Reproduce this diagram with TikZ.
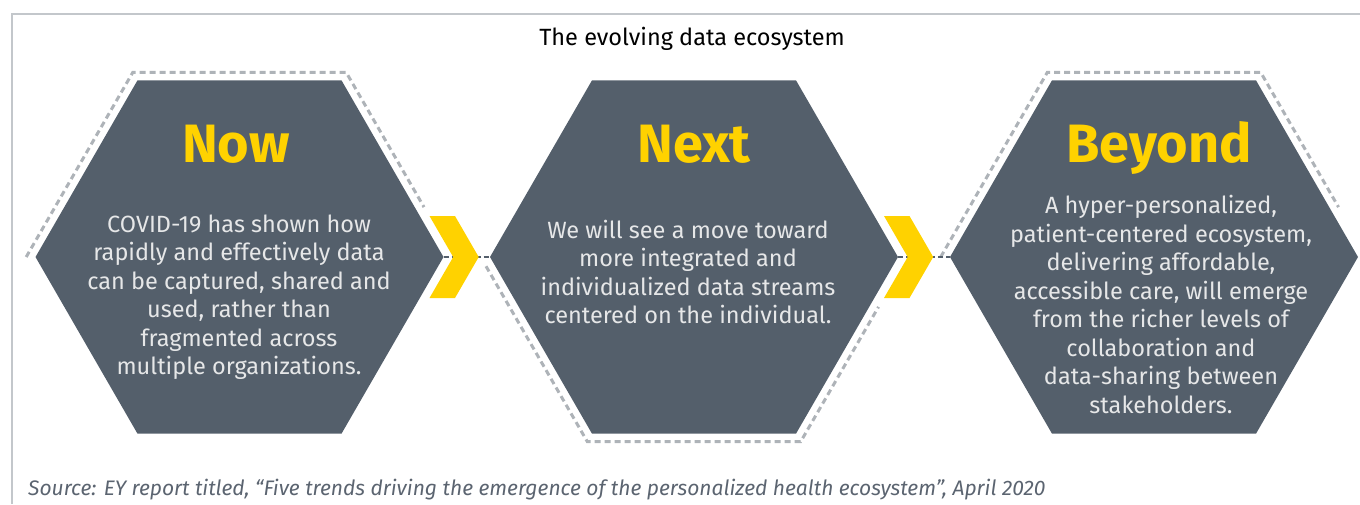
\documentclass[tikz,border=0pt]{standalone}
\usepackage{fontspec}
\setmainfont{Fira Sans}
\usepackage{xcolor}
\usepackage{tikz}
\usetikzlibrary{shapes.geometric,calc}

\definecolor{hexgrey}{HTML}{545F6B}
\definecolor{eyyellow}{HTML}{FFD200}
\definecolor{rimgrey}{HTML}{AEB3B8}
\definecolor{framegrey}{HTML}{C3C7CB}
\definecolor{bodywhite}{HTML}{E6E7E8}
\definecolor{sourcegrey}{HTML}{5B6470}

\tikzset{
  hex/.style={regular polygon,regular polygon sides=6,minimum size=408pt,inner sep=0pt,outer sep=0pt,fill=hexgrey},
  rim/.style={regular polygon,regular polygon sides=6,minimum size=426.6pt,inner sep=0pt,outer sep=0pt},
  rimline/.style={rimgrey,line width=3pt,dash pattern=on 6pt off 4pt},
  link/.style={hexgrey,line width=2pt,dash pattern=on 5pt off 3pt},
  chevron/.style={fill=eyyellow},
  hextitle/.style={anchor=base,inner sep=0pt,text=eyyellow,font=\fontsize{54}{54}\selectfont\bfseries},
  hexbody/.style={anchor=base,inner sep=0pt,align=center,text=bodywhite,font=\fontsize{23.5}{28.5}\selectfont}
}

\begin{document}
\begin{tikzpicture}[x=1pt,y=-1pt]
\useasboundingbox (0,0) rectangle (1360,504);
% frame
\draw[framegrey,line width=1.5pt](12,504)--(12,14)--(1360,14);
\node[anchor=base,inner sep=0pt,font=\fontsize{23.5}{23.5}\selectfont] (title) at (692,45) {The evolving data ecosystem};

% hexagons and their dotted rims
\foreach \h/\x in {now/239.5,next/694,beyond/1154}{
  \node[rim] (\h rim) at (\x,257) {};
}
\draw[rimline](nowrim.180)--(nowrim.120)--(nowrim.60)--($(nowrim.60)!0.73!(nowrim.0)$);
\draw[rimline]($(nextrim.180)!0.05!(nextrim.240)$)--(nextrim.240)--(nextrim.300)--($(nextrim.300)!0.73!(nextrim.0)$);
\draw[rimline](beyondrim.180)--(beyondrim.120)--(beyondrim.60)--($(beyondrim.60)!0.73!(beyondrim.0)$);

\foreach \h/\x in {now/239.5,next/694,beyond/1154}{
  \node[hex] (\h) at (\x,257) {};
}
\draw[link](now.0)--(next.180);
\draw[link](next.0)--(beyond.180);

% chevrons
\foreach \h in {now,next}{
  \fill[chevron,shift={(\h.center)}](190,-41)--(215.5,-41)--(239.2,0)--(215.5,41)--(190,41)--(213.7,0)--cycle;
}

% texts (base = last line)
\node[hextitle] (nowtitle) at (236,162) {Now};
\node[hextitle] (nexttitle) at (694,162) {Next};
\node[hextitle] (beyondtitle) at (1159,162) {Beyond};

\node[hexbody] (nowtext) at (239,374.5) {COVID-19 has shown how\\rapidly and effectively data\\can be captured, shared and\\used, rather than\\fragmented across\\multiple organizations.};
\node[hexbody] (nexttext) at (688,323.5) {We will see a move toward\\more integrated and\\individualized data streams\\centered on the individual.};
\node[hexbody] (beyondtext) at (1161,413) {A hyper-personalized,\\patient-centered ecosystem,\\delivering affordable,\\accessible care, will emerge\\from the richer levels of\\collaboration and\\data-sharing between\\stakeholders.};

\node[anchor=base west,inner sep=0pt,text=sourcegrey,font=\fontsize{21}{21}\selectfont\itshape] (source) at (28,495) {Source: EY report titled, “Five trends driving the emergence of the personalized health ecosystem”, April 2020};
\end{tikzpicture}
\end{document}
